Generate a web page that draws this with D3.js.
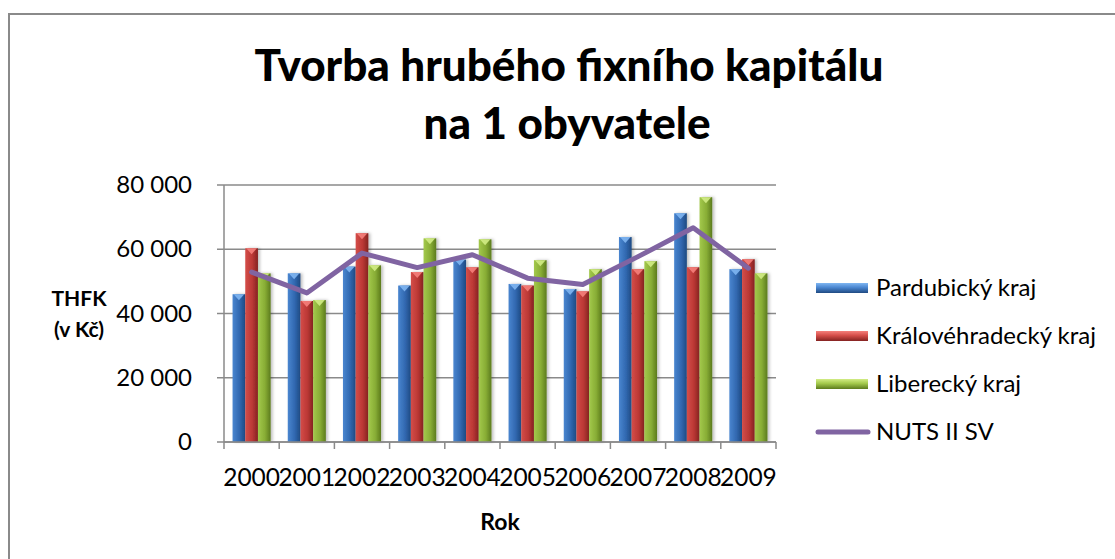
<!DOCTYPE html>
<html>
<head>
<meta charset="utf-8">
<script src="https://cdn.jsdelivr.net/npm/d3@7"></script>
<style>
  body { margin: 0; background: #fff; }
  svg { display: block; font-family: Lato, "Open Sans", sans-serif; }
</style>
</head>
<body>
<div id="chart"></div>
<script>
// data
const years = ["2000","2001","2002","2003","2004","2005","2006","2007","2008","2009"];
const seriesNames = ["Pardubický kraj", "Královéhradecký kraj", "Liberecký kraj"];
const pardubicky = [46000, 52500, 54600, 48700, 56800, 49200, 47600, 63800, 71200, 53800];
const kralovehradecky = [60300, 43900, 65000, 52900, 54400, 48700, 46900, 53800, 54400, 56900];
const liberecky = [52500, 44200, 55000, 63400, 63100, 56600, 53800, 56300, 76200, 52500];
const nutsName = "NUTS II SV";
const nuts = [52900, 46400, 58800, 54300, 58300, 51000, 49000, 57700, 66700, 54100];
const yTicks = [0, 20000, 40000, 60000, 80000];

const W = 1115, H = 559;
const plot = { left: 224, right: 776, top: 185, bottom: 442 };

const palette = [
  { light: "#4a86d0", mid: "#3168b0", dark: "#1f4a82", tip: "#7fb6f2" },
  { light: "#d44d49", mid: "#bb3835", dark: "#842321", tip: "#f5807b" },
  { light: "#a3c94c", mid: "#88ad35", dark: "#5c7b1d", tip: "#d2ec85" }
];
const lineColor = "#8064a2";

const svg = d3.select("#chart").append("svg")
  .attr("width", W).attr("height", H);

const defs = svg.append("defs");
palette.forEach(function(c, i) {
  const g = defs.append("linearGradient").attr("id", "bar" + i)
    .attr("x1", "0").attr("x2", "1").attr("y1", "0").attr("y2", "0");
  g.append("stop").attr("offset", "0%").attr("stop-color", c.light);
  g.append("stop").attr("offset", "55%").attr("stop-color", c.mid);
  g.append("stop").attr("offset", "100%").attr("stop-color", c.dark);
  const lg = defs.append("linearGradient").attr("id", "leg" + i)
    .attr("x1", "0").attr("x2", "0").attr("y1", "0").attr("y2", "1");
  lg.append("stop").attr("offset", "0%").attr("stop-color", c.tip);
  lg.append("stop").attr("offset", "45%").attr("stop-color", c.light);
  lg.append("stop").attr("offset", "100%").attr("stop-color", c.dark);
});
defs.append("filter").attr("id", "shadow").attr("x", "-30%").attr("width", "160%")
  .append("feDropShadow").attr("dx", 2).attr("dy", 0).attr("stdDeviation", 1.5)
  .attr("flood-color", "#000").attr("flood-opacity", 0.25);

// outer frame (only top and left edges are inside the picture)
svg.append("path")
  .attr("d", "M9," + (H + 2) + "V14H" + (W + 2))
  .attr("fill", "none").attr("stroke", "#8a8a8a").attr("stroke-width", 2);

// title
const title = svg.append("text")
  .attr("text-anchor", "middle").attr("font-weight", 900)
  .attr("font-size", 44).attr("fill", "#000");
title.append("tspan").attr("x", 569).attr("y", 81).text("Tvorba hrubého fixního kapitálu");
title.append("tspan").attr("x", 567).attr("y", 139).text("na 1 obyvatele");

// scales
const x = d3.scaleBand().domain(years).range([plot.left, plot.right]).padding(0);
const bw = x.bandwidth();
const xs = d3.scaleBand().domain(d3.range(3)).range([bw * 0.155, bw * 0.845]).padding(0);
const y = d3.scaleLinear().domain([0, 80000]).range([plot.bottom, plot.top]);

// gridlines
svg.append("g").selectAll("line").data(yTicks).join("line")
  .attr("x1", plot.left - 7).attr("x2", plot.right)
  .attr("y1", d => y(d)).attr("y2", d => y(d))
  .attr("stroke", "#8a8a8a").attr("stroke-width", 1.5);

// y axis
svg.append("line")
  .attr("x1", plot.left).attr("x2", plot.left)
  .attr("y1", plot.top).attr("y2", plot.bottom)
  .attr("stroke", "#8a8a8a").attr("stroke-width", 1.5);

const yAxis = svg.append("g")
  .attr("transform", "translate(" + (plot.left - 8) + ",0)")
  .call(d3.axisLeft(y).tickValues(yTicks).tickSize(0).tickPadding(24)
    .tickFormat(d => d3.format(",")(d).replace(/,/g, " ")));
yAxis.select(".domain").remove();
yAxis.selectAll("text").attr("font-size", 24).attr("fill", "#000")
  .attr("font-family", "Lato, sans-serif");

// bars
const series = [pardubicky, kralovehradecky, liberecky];
series.forEach(function(vals, si) {
  const g = svg.append("g").attr("filter", "url(#shadow)");
  const bx = (d, i) => x(years[i]) + xs(si);
  g.selectAll("rect").data(vals).join("rect")
    .attr("x", bx)
    .attr("y", d => y(d))
    .attr("width", xs.bandwidth())
    .attr("height", d => y(0) - y(d))
    .attr("fill", "url(#bar" + si + ")");
  svg.append("g").selectAll("path").data(vals).join("path")
    .attr("d", function(d, i) {
      const x0 = bx(d, i), w = xs.bandwidth(), t = y(d);
      return "M" + (x0 + 1) + "," + t + "H" + (x0 + w - 1) + "L" + (x0 + w / 2) + "," + (t + 6) + "Z";
    })
    .attr("fill", palette[si].tip).attr("opacity", 0.9);
});

// x axis
svg.append("line")
  .attr("x1", plot.left).attr("x2", plot.right)
  .attr("y1", plot.bottom).attr("y2", plot.bottom)
  .attr("stroke", "#8a8a8a").attr("stroke-width", 1.5);
svg.append("g").selectAll("line").data(years.concat(["end"])).join("line")
  .attr("x1", (d, i) => plot.left + i * bw).attr("x2", (d, i) => plot.left + i * bw)
  .attr("y1", plot.bottom).attr("y2", plot.bottom + 7)
  .attr("stroke", "#8a8a8a").attr("stroke-width", 1.5);

const xAxis = svg.append("g")
  .attr("transform", "translate(0," + plot.bottom + ")")
  .call(d3.axisBottom(x).tickSize(0).tickPadding(27));
xAxis.select(".domain").remove();
xAxis.selectAll("text").attr("font-size", 24.5).attr("fill", "#000")
  .attr("font-family", "Lato, sans-serif");

// NUTS line
svg.append("path")
  .datum(nuts)
  .attr("d", d3.line().x((d, i) => x(years[i]) + bw / 2).y(d => y(d)))
  .attr("fill", "none").attr("stroke", lineColor).attr("stroke-width", 5)
  .attr("stroke-linejoin", "round").attr("stroke-linecap", "round");

// axis titles
svg.append("text").attr("x", 500).attr("y", 530)
  .attr("text-anchor", "middle").attr("font-weight", "bold").attr("font-size", 23)
  .text("Rok");
const yt = svg.append("text").attr("text-anchor", "middle")
  .attr("font-weight", "bold").attr("font-size", 21);
yt.append("tspan").attr("x", 79).attr("y", 306).text("THFK");
yt.append("tspan").attr("x", 79).attr("y", 337).text("(v Kč)");

// legend
const legend = svg.append("g").attr("transform", "translate(816,0)");
const rows = [288, 336, 384, 432];
seriesNames.forEach(function(name, i) {
  legend.append("rect").attr("x", 0).attr("y", rows[i] - 5)
    .attr("width", 52).attr("height", 10)
    .attr("fill", "url(#leg" + i + ")");
  legend.append("text").attr("x", 60).attr("y", rows[i]).attr("dy", "0.35em")
    .attr("font-size", 24).text(name);
});
legend.append("line").attr("x1", 2).attr("x2", 52)
  .attr("y1", rows[3]).attr("y2", rows[3])
  .attr("stroke", lineColor).attr("stroke-width", 5).attr("stroke-linecap", "round");
legend.append("text").attr("x", 60).attr("y", rows[3]).attr("dy", "0.35em")
  .attr("font-size", 24).text(nutsName);
</script>
</body>
</html>
